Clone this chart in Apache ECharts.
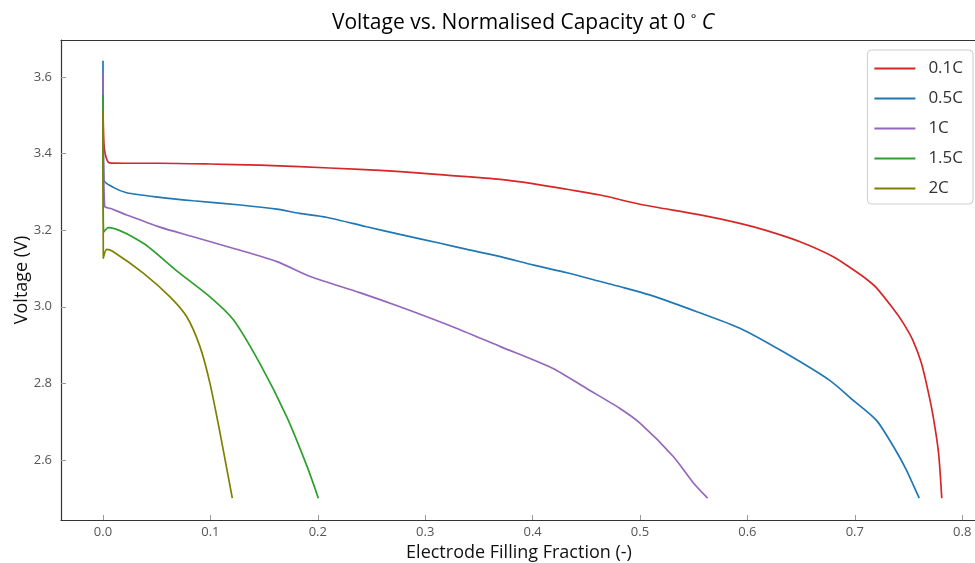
<!DOCTYPE html>
<html>
<head>
<meta charset="utf-8">
<script src="https://cdn.jsdelivr.net/npm/echarts@6/dist/echarts.min.js"></script>
<style>
  html, body { margin: 0; padding: 0; background: #fff; }
  #chart { width: 975px; height: 563px; }
</style>
</head>
<body>
<div id="chart"></div>
<script>
// [filling fraction, voltage]
const rate01C = [
  [0, 3.52], [0.0008, 3.43], [0.002, 3.40], [0.004, 3.382], [0.006, 3.376],
  [0.02, 3.375], [0.053, 3.375], [0.1, 3.373], [0.146, 3.370], [0.183, 3.366],
  [0.239, 3.359], [0.277, 3.353], [0.32, 3.344], [0.37, 3.333], [0.4, 3.322],
  [0.432, 3.307], [0.463, 3.292], [0.5, 3.268], [0.556, 3.240], [0.593, 3.218],
  [0.618, 3.199], [0.649, 3.170], [0.68, 3.131], [0.698, 3.098], [0.711, 3.072],
  [0.72, 3.05], [0.736, 2.994], [0.745, 2.958], [0.754, 2.913], [0.762, 2.853],
  [0.768, 2.783], [0.773, 2.713], [0.778, 2.618], [0.781, 2.5]
];
const rate05C = [
  [0, 3.643], [0.0008, 3.331], [0.0096, 3.312], [0.022, 3.298], [0.053, 3.286],
  [0.084, 3.277], [0.128, 3.266], [0.162, 3.255], [0.183, 3.244], [0.208, 3.234],
  [0.2455, 3.209], [0.2765, 3.189], [0.314, 3.166], [0.339, 3.150], [0.37, 3.131],
  [0.401, 3.109], [0.432, 3.089], [0.463, 3.066], [0.481, 3.053], [0.509, 3.031],
  [0.553, 2.987], [0.593, 2.944], [0.633, 2.883], [0.676, 2.809], [0.698, 2.757],
  [0.72, 2.704], [0.736, 2.635], [0.748, 2.574], [0.76, 2.5]
];
const rate1C = [
  [0, 3.61], [0.0015, 3.263], [0.008, 3.256], [0.022, 3.240], [0.053, 3.208],
  [0.084, 3.183], [0.121, 3.153], [0.162, 3.118], [0.193, 3.079], [0.239, 3.037],
  [0.2765, 3.0], [0.329, 2.944], [0.37, 2.896], [0.419, 2.839], [0.45, 2.787],
  [0.481, 2.735], [0.5, 2.696], [0.531, 2.609], [0.55, 2.539], [0.563, 2.5]
];
const rate15C = [
  [0, 3.553], [0.0005, 3.195], [0.005, 3.207], [0.0375, 3.166], [0.0686, 3.094],
  [0.0996, 3.026], [0.1214, 2.966], [0.146, 2.852], [0.171, 2.713], [0.19, 2.583],
  [0.2005, 2.5]
];
const rate2C = [
  [0, 3.514], [0.0003, 3.127], [0.0034, 3.150], [0.0096, 3.144], [0.0375, 3.088],
  [0.0624, 3.026], [0.078, 2.974], [0.0903, 2.896], [0.0996, 2.8], [0.109, 2.67],
  [0.1204, 2.5]
];

const seriesNames = ['0.1C', '0.5C', '1C', '1.5C', '2C'];
const seriesData = [rate01C, rate05C, rate1C, rate15C, rate2C];
const colors = ['#d62728', '#1f77b4', '#9467bd', '#2ca02c', '#808000'];
const xTicks = [0, 0.1, 0.2, 0.3, 0.4, 0.5, 0.6, 0.7, 0.8];
const yTicks = [2.6, 2.8, 3.0, 3.2, 3.4, 3.6];

const font = '"Open Sans", "DejaVu Sans", sans-serif';
const xMin = -0.0391;
const xMax = 0.8138;
const chart = echarts.init(document.getElementById('chart'));

const option = {
  animation: false,
  color: colors,
  textStyle: { fontFamily: font },
  title: {
    text: 'Voltage vs. Normalised Capacity at 0 {sup|°} {it|C}',
    left: 518,
    top: 8,
    textAlign: 'center',
    textStyle: {
      fontFamily: font,
      fontSize: 21,
      fontWeight: 'normal',
      color: '#000',
      rich: {
        sup: { fontSize: 13, verticalAlign: 'top', color: '#000', padding: [0, 0, 8, 0] },
        it: { fontSize: 21, fontStyle: 'italic', color: '#000', fontFamily: font },
      },
    },
  },
  grid: {
    left: 61,
    right: -2,
    top: 40,
    bottom: 43,
    outerBoundsMode: 'none',
  },
  legend: {
    data: seriesNames,
    orient: 'vertical',
    right: 2,
    top: 50,
    icon: 'rect',
    itemWidth: 41,
    itemHeight: 2,
    itemGap: 13,
    padding: [10, 10, 7, 7],
    borderColor: '#ccc',
    borderWidth: 1,
    borderRadius: 4,
    backgroundColor: '#fff',
    textStyle: { fontFamily: font, fontSize: 17, color: '#333', padding: [0, 0, 0, 8] },
  },
  xAxis: [
    {
      type: 'value',
      min: xMin,
      max: xMax,
      name: 'Electrode Filling Fraction (-)',
      nameLocation: 'middle',
      nameGap: 24,
      nameMoveOverlap: false,
      nameTextStyle: { fontFamily: font, fontSize: 18, color: '#111' },
      splitLine: { show: false },
      axisLine: { show: true, onZero: false, lineStyle: { color: '#333', width: 1.2 } },
      axisTick: {
        show: true, inside: true, length: 5, customValues: xTicks,
        lineStyle: { color: '#999' },
      },
      axisLabel: {
        customValues: xTicks,
        margin: 6,
        fontSize: 13,
        color: '#555',
        formatter: (v) => v.toFixed(1),
      },
    },
    {
      // top frame line only
      type: 'value',
      position: 'top',
      min: xMin,
      max: xMax,
      splitLine: { show: false },
      axisLine: { show: true, onZero: false, lineStyle: { color: '#333', width: 1.2 } },
      axisTick: { show: false },
      axisLabel: { show: false },
    },
  ],
  yAxis: {
    type: 'value',
    min: 2.443,
    max: 3.697,
    name: 'Voltage (V)',
    nameLocation: 'middle',
    nameGap: 30,
    nameMoveOverlap: false,
    nameTextStyle: { fontFamily: font, fontSize: 18, color: '#111' },
    splitLine: { show: false },
    axisLine: { show: true, onZero: false, lineStyle: { color: '#333', width: 1.2 } },
    axisTick: {
      show: true, inside: true, length: 5, customValues: yTicks,
      lineStyle: { color: '#999' },
    },
    axisLabel: {
      customValues: yTicks,
      margin: 9,
      fontSize: 13,
      color: '#555',
      formatter: (v) => v.toFixed(1),
    },
  },
  series: seriesNames.map((name, i) => ({
    name,
    type: 'line',
    xAxisIndex: 0,
    data: seriesData[i],
    showSymbol: false,
    symbol: 'none',
    smooth: 0.25,
    lineStyle: { width: 1.7, color: colors[i] },
  })),
};

chart.setOption(option);
</script>
</body>
</html>
